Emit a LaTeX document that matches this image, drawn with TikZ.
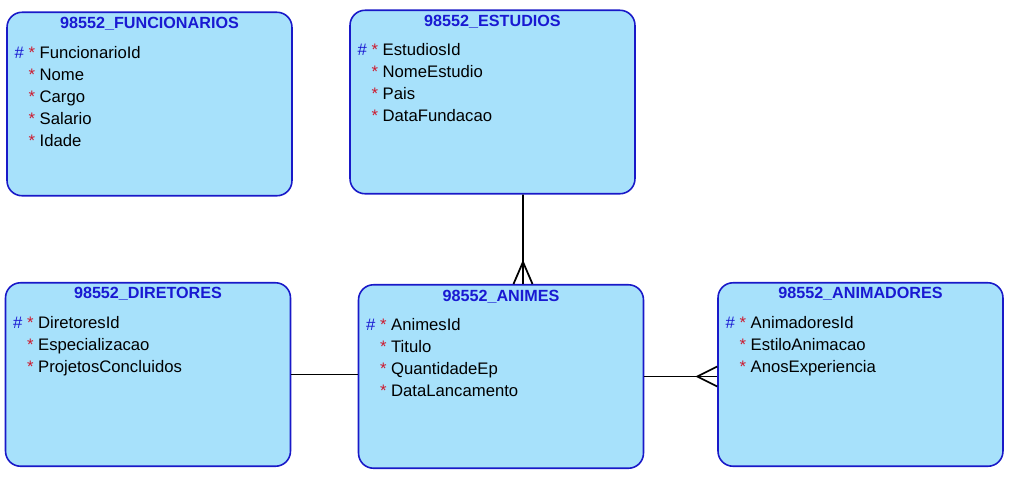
\documentclass[tikz,border=0pt]{standalone}
\usepackage{fontspec}
\setmainfont{Liberation Sans}
\usetikzlibrary{positioning}

\definecolor{entfill}{RGB}{167,225,251}
\definecolor{entline}{RGB}{25,25,200}
\definecolor{pkblue}{RGB}{25,25,210}
\definecolor{reqred}{RGB}{205,25,45}

\newcommand{\pkattr}{\textcolor{pkblue}{\#}~\textcolor{reqred}{*}~}
\newcommand{\reqattr}{\phantom{\#}~\textcolor{reqred}{*}~}

\begin{document}
\begin{tikzpicture}[x=0.02cm,y=-0.02cm,
    every node/.style={font=\fontsize{9.5}{11}\selectfont},
    entity/.style={draw=entline, fill=entfill, line width=0.9pt, rounded corners=0.3cm,
        minimum width=5.7cm, minimum height=3.67cm, inner sep=0pt},
    enttitle/.style={font=\fontsize{9.2}{11}\selectfont\bfseries, text=pkblue, inner sep=0pt, anchor=base},
    attr/.style={anchor=base west, inner sep=0pt},
    rel/.style={line width=1pt}]
    \useasboundingbox (0,0) rectangle (1015,481);

    % entidades
    \node[entity] (f) at (149.5,104) {};
    \node[entity] (e) at (492.5,102) {};
    \node[entity] (d) at (148,374.5) {};
    \node[entity] (a) at (501,376.5) {};
    \node[entity] (m) at (860.5,374.5) {};

    % titulos
    \node[enttitle] (ft) at ([yshift=-0.34cm]f.north) {98552\_FUNCIONARIOS};
    \node[enttitle] (et) at ([yshift=-0.34cm]e.north) {98552\_ESTUDIOS};
    \node[enttitle] (dt) at ([yshift=-0.34cm]d.north) {98552\_DIRETORES};
    \node[enttitle] (at) at ([yshift=-0.36cm]a.north) {98552\_ANIMES};
    \node[enttitle] (mt) at ([yshift=-0.34cm]m.north) {98552\_ANIMADORES};

    % atributos
    \node[attr] (f1) at ([xshift=0.16cm,yshift=-0.94cm]f.north west) {\pkattr FuncionarioId};
    \foreach \t [count=\i from 2] in {Nome,Cargo,Salario,Idade}
        \node[attr] (f\i) at ([xshift=0.16cm,yshift=-0.94cm-0.44cm*(\i-1)]f.north west) {\reqattr\t};

    \node[attr] (e1) at ([xshift=0.16cm,yshift=-0.92cm]e.north west) {\pkattr EstudiosId};
    \foreach \t [count=\i from 2] in {NomeEstudio,Pais,DataFundacao}
        \node[attr] (e\i) at ([xshift=0.16cm,yshift=-0.92cm-0.44cm*(\i-1)]e.north west) {\reqattr\t};

    \node[attr] (d1) at ([xshift=0.16cm,yshift=-0.94cm]d.north west) {\pkattr DiretoresId};
    \foreach \t [count=\i from 2] in {Especializacao,ProjetosConcluidos}
        \node[attr] (d\i) at ([xshift=0.16cm,yshift=-0.94cm-0.435cm*(\i-1)]d.north west) {\reqattr\t};

    \node[attr] (a1) at ([xshift=0.16cm,yshift=-0.94cm]a.north west) {\pkattr AnimesId};
    \foreach \t [count=\i from 2] in {Titulo,QuantidadeEp,DataLancamento}
        \node[attr] (a\i) at ([xshift=0.16cm,yshift=-0.94cm-0.435cm*(\i-1)]a.north west) {\reqattr\t};

    \node[attr] (m1) at ([xshift=0.16cm,yshift=-0.94cm]m.north west) {\pkattr AnimadoresId};
    \foreach \t [count=\i from 2] in {EstiloAnimacao,AnosExperiencia}
        \node[attr] (m\i) at ([xshift=0.16cm,yshift=-0.94cm-0.435cm*(\i-1)]m.north west) {\reqattr\t};

    % relacionamentos
    \draw[rel] ([xshift=0.61cm]e.south) -- ([xshift=0.44cm]a.north);
    \draw[rel] ([xshift=0.25cm]a.north) -- ([xshift=0.44cm,yshift=0.44cm]a.north) -- ([xshift=0.63cm]a.north);

    \draw[rel] (d.east) -- (d.east -| a.west);

    \draw[rel] (a.east) -- (a.east -| m.west);
    \draw[rel] ([yshift=0.2cm]a.east -| m.west) -- ([xshift=-0.4cm]a.east -| m.west) -- ([yshift=-0.2cm]a.east -| m.west);
\end{tikzpicture}
\end{document}
